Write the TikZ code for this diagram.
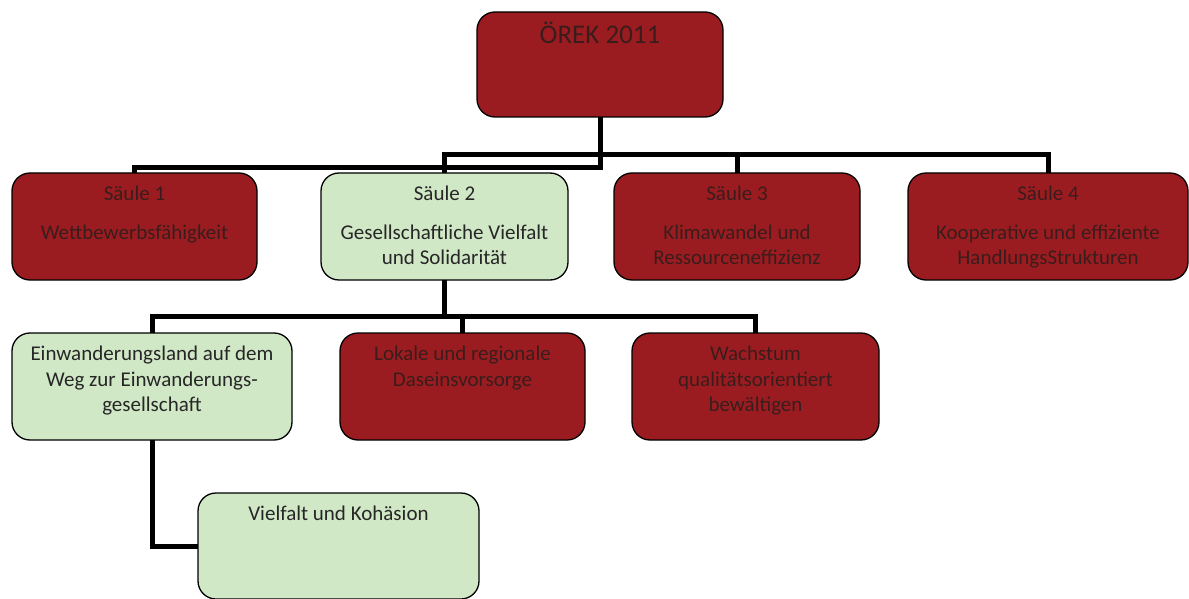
\documentclass[tikz,border=0pt]{standalone}
\usepackage{fontspec}
\setmainfont{Carlito}
\definecolor{saeulered}{HTML}{9B1C20}
\definecolor{saeulegreen}{HTML}{D1E8C6}
\definecolor{redtext}{HTML}{3A1C1C}
\definecolor{greentext}{HTML}{262626}
\newcommand\boxtxt[3]{\parbox[c][#2pt][t]{#1pt}{\centering\rule{0pt}{27.5pt}#3}}
\tikzset{
  panel/.style={draw=black, line width=1.3pt, rounded corners=18pt, inner sep=0pt, outer sep=0pt, anchor=north west,
    font=\fontsize{21}{25.6}\selectfont},
  redpanel/.style={panel, fill=saeulered, text=redtext},
  greenpanel/.style={panel, fill=saeulegreen, text=greentext},
  conn/.style={line width=5pt}
}

\begin{document}
\begin{tikzpicture}[x=1pt,y=-1pt]
      \useasboundingbox (0,0) rectangle (1189,599);
      % top
      \node[redpanel, font=\fontsize{27}{32}\selectfont] (orek) at (477,12)
        {\parbox[c][105pt][t]{246pt}{\centering\rule{0pt}{31.5pt}ÖREK 2011}};
      % pillars
      \node[redpanel] (s1) at (12,173) {\boxtxt{245}{107}{Säule 1\\[13pt]Wettbewerbsfähigkeit}};
      \node[greenpanel] (s2) at (321,173) {\boxtxt{247}{107}{Säule 2\\[13pt]Gesellschaftliche Vielfalt\\und Solidarität}};
      \node[redpanel] (s3) at (614,173) {\boxtxt{246}{107}{Säule 3\\[13pt]Klimawandel und\\Ressourceneffizienz}};
      \node[redpanel] (s4) at (908,173) {\boxtxt{280}{107}{Säule 4\\[13pt]Kooperative und effiziente\\HandlungsStrukturen}};
      % fields of pillar 2
      \node[greenpanel] (einw) at (12,333) {\boxtxt{280}{107}{Einwanderungsland auf dem\\Weg zur Einwanderungs-\\gesellschaft}};
      \node[redpanel] (lokal) at (340,333) {\boxtxt{245}{107}{Lokale und regionale\\Daseinsvorsorge}};
      \node[redpanel] (wachs) at (632,333) {\boxtxt{247}{107}{Wachstum\\qualitätsorientiert\\bewältigen}};
      \node[greenpanel] (vielf) at (198,493) {\boxtxt{281}{106}{Vielfalt und Kohäsion}};
      % connectors
      \coordinate (b0) at (0,168);
      \coordinate (b1) at (0,155);
      \coordinate (b2) at (0,316);
      \draw[conn] (orek.south) |- (b0 -| s1.north) -- (s1.north);
      \draw[conn] (s2.north) |- (b1 -| s4.north) -- (s4.north);
      \draw[conn] (s3.north) -- (s3.north |- b1);
      \draw[conn] (s2.south) -- (s2.south |- b2);
      \draw[conn] (einw.north) |- (b2 -| wachs.north) -- (wachs.north);
      \draw[conn] (lokal.north) -- (lokal.north |- b2);
      \draw[conn] (einw.south) |- (vielf.west);
\end{tikzpicture}
\end{document}
